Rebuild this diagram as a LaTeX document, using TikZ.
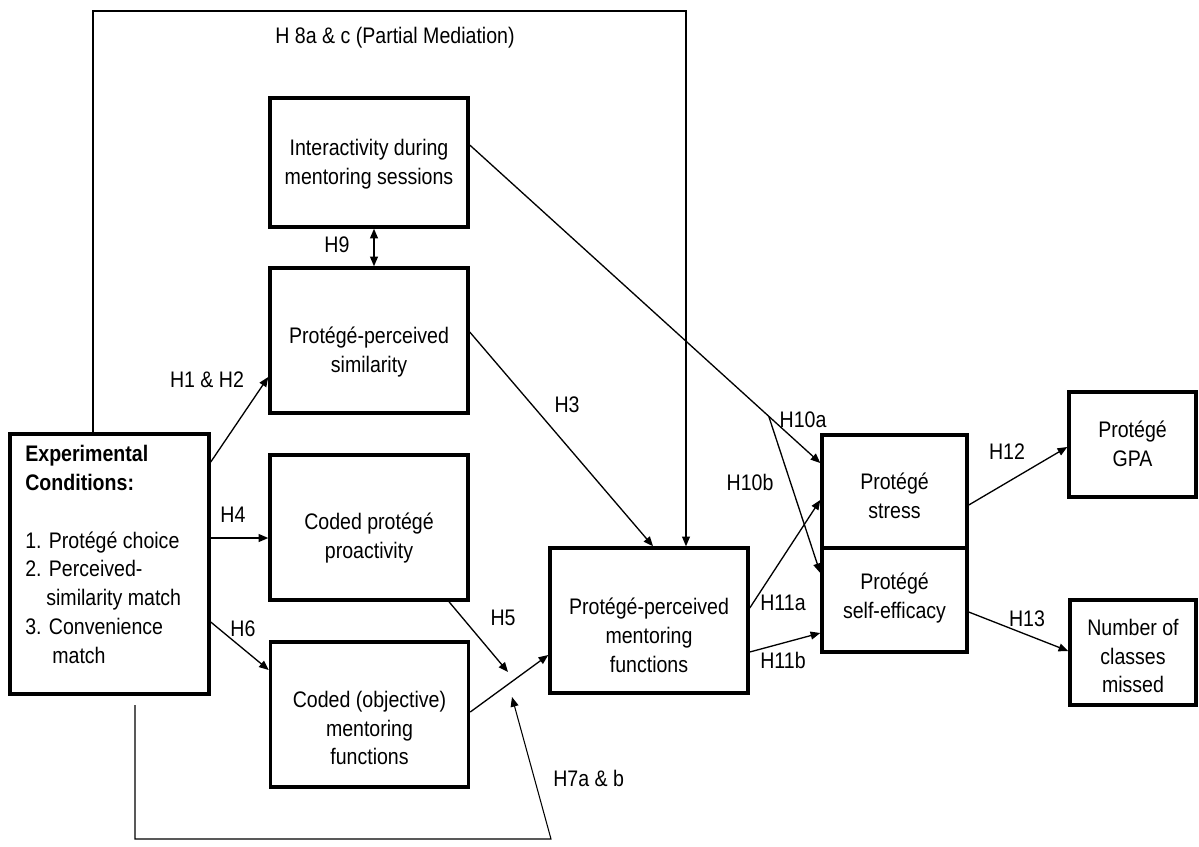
\documentclass[tikz,border=0pt]{standalone}
\usepackage{fontspec}
\setmainfont{Liberation Sans}[FakeStretch=0.87]
\usetikzlibrary{arrows.meta}

\begin{document}
\begin{tikzpicture}[x=0.02cm, y=-0.02cm,
  >={Triangle[length=5.5pt,width=4.5pt]},
  every node/.style={font=\fontsize{12.8}{16.4}\selectfont},
  box/.style={draw, line width=2pt, minimum width=3.96cm, minimum height=2.9cm},
  txt/.style={align=center, inner sep=0pt},
  hyp/.style={inner sep=0pt},
  conn/.style={line width=0.75pt, ->},
  feed/.style={line width=0.6pt}]
\useasboundingbox (0,0) rectangle (1199,846);

\node[box, minimum width=3.98cm, minimum height=5.2cm] (exp) at (109.5,564) {};
\node[box, minimum height=2.58cm] (inter) at (369,162.5) {};
\node[box] (sim) at (369,340.5) {};
\node[box] (pro) at (369,527.5) {};
\node[box] (obj) at (369.5,714.5) {};
\node[box] (ppmf) at (649,620.5) {};
\node[box, minimum width=2.9cm, minimum height=2.26cm] (stress) at (894.5,491.5) {};
\node[box, minimum width=2.9cm, minimum height=2.08cm] (selfeff) at (894.5,600) {};
\node[box, minimum width=2.54cm, minimum height=2.1cm] (gpa) at (1132.5,444.5) {};
\node[box, minimum width=2.52cm, minimum height=2.1cm] (num) at (1133,652.5) {};

\node[txt, align=left, anchor=north west] (exp-t) at (25,445)
  {\textbf{Experimental}\\\textbf{Conditions:}\\[16.4pt]1. Protégé choice\\2. Perceived-\\\hspace*{0.42cm}similarity match\\3. Convenience\\\hspace*{0.54cm}match};
\node[txt] (inter-t) at (369,164) {Interactivity during\\mentoring sessions};
\node[txt] (sim-t) at (369,352) {Protégé-perceived\\similarity};
\node[txt] (pro-t) at (369,538) {Coded protégé\\proactivity};
\node[txt] (obj-t) at (369.5,728) {Coded (objective)\\mentoring\\functions};
\node[txt] (ppmf-t) at (649,635) {Protégé-perceived\\mentoring\\functions};
\node[txt] (stress-t) at (894.5,496) {Protégé\\stress};
\node[txt] (selfeff-t) at (894.5,598) {Protégé\\self-efficacy};
\node[txt] (gpa-t) at (1132.5,444) {Protégé\\GPA};
\node[txt] (num-t) at (1133,656) {Number of\\classes\\missed};

\node[hyp] (h8) at (395,38) {H 8a \& c (Partial Mediation)};
\node[hyp] (h9) at (337,245) {H9};
\node[hyp] (h12l) at (207,380) {H1 \& H2};
\node[hyp] (h4) at (233,515) {H4};
\node[hyp] (h6) at (243,629) {H6};
\node[hyp] (h3) at (567,405) {H3};
\node[hyp] (h5) at (503,618) {H5};
\node[hyp, anchor=west] (h7) at (553,778) {H7a \& b};
\node[hyp] (h10a) at (803,420) {H10a};
\node[hyp] (h10b) at (750,482) {H10b};
\node[hyp] (h11a) at (783,603) {H11a};
\node[hyp] (h11b) at (783,660) {H11b};
\node[hyp] (h12) at (1007,452) {H12};
\node[hyp] (h13) at (1027,619) {H13};

\coordinate (mod5) at (508,672);
\coordinate (mod7) at (512,697);
\coordinate (h7s) at (135,705);

\draw[conn, feed] (93,0 |- exp.north) -- (93,11) -| (686,0 |- ppmf.north);
\draw[line width=0.75pt, <->] (inter.south -| 374,0) -- (sim.north -| 374,0);
\draw[conn] (exp.east |- 0,462) -- (sim.west |- 0,377);
\draw[conn] (exp.east |- 0,538) -- (pro.west |- 0,538);
\draw[conn] (exp.east |- 0,622) -- (obj.west |- 0,670);
\draw[conn] (sim.east |- 0,332) -- (653,0 |- ppmf.north);
\draw[conn] (inter.east |- 0,145) -- coordinate[pos=0.853] (h10) (stress.west |- 0,463);
\draw[conn] (h10) -- (selfeff.west |- 0,573);
\draw[conn] (449,0 |- pro.south) -- (mod5);
\draw[conn] (obj.east |- 0,712) -- (ppmf.west |- 0,655);
\draw[conn, feed] (h7s) -- (135,839) -- (551,839) -- (mod7);
\draw[conn] (ppmf.east |- 0,608) -- (stress.west |- 0,500);
\draw[conn] (ppmf.east |- 0,652) -- (selfeff.west |- 0,633);
\draw[conn] (stress.east |- 0,505) -- (gpa.west |- 0,447);
\draw[conn] (selfeff.east |- 0,612) -- (num.west |- 0,651);
\end{tikzpicture}
\end{document}
